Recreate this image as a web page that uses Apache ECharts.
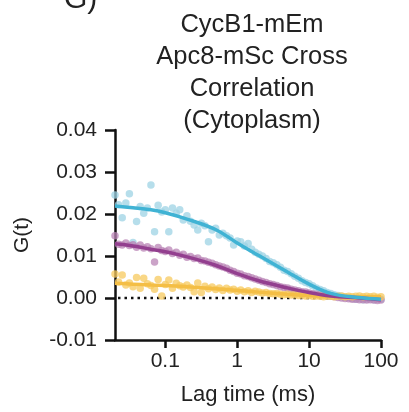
<!DOCTYPE html>
<html>
<head>
<meta charset="utf-8">
<script src="https://cdn.jsdelivr.net/npm/echarts@6/dist/echarts.min.js"></script>
<style>html,body{margin:0;padding:0;background:#fff}#c{width:409px;height:412px}</style>
</head>
<body>
<div id="c"></div>
<script>
// Lag times (ms)
var lagTimes = [0.020,0.0224,0.0252,0.0283,0.0317,0.0356,0.0399,0.0448,0.0502,0.0564,
0.0632,0.0710,0.0796,0.0893,0.1002,0.112,0.126,0.142,0.159,0.178,
0.200,0.224,0.252,0.283,0.317,0.356,0.399,0.448,0.502,0.564,
0.632,0.710,0.796,0.893,1.00,1.12,1.26,1.42,1.59,1.78,
2.00,2.24,2.52,2.83,3.17,3.56,3.99,4.48,5.02,5.64,
6.32,7.10,7.96,8.93,10.0,11.2,12.6,14.2,15.9,17.8,
20.0,22.4,25.2,28.3,31.7,35.6,39.9,44.8,50.2,56.4,
63.2,71.0,79.6,89.3,100];

var cyanPoints = [0.0245,0.0222,0.0191,0.0226,0.0248,0.0132,0.0182,0.0218,0.0202,0.0214,
0.0269,0.0158,0.0221,0.0205,0.0210,0.0158,0.0214,0.0202,0.0210,0.0186,
0.0196,0.0183,0.0174,0.0162,0.0178,0.0172,0.0134,0.0162,0.0166,0.0150,
0.0154,0.0148,0.0143,0.0126,0.0136,0.0134,0.0124,0.0130,0.0116,0.0109,
0.0104,0.0100,0.0094,0.0087,0.0084,0.0079,0.0073,0.0066,0.0063,0.0058,
0.0052,0.0047,0.0041,0.0037,0.0034,0.0029,0.0024,0.0020,0.0017,0.0013,
0.0011,0.0008,0.0006,0.0004,0.0002,0.0001,-0.0001,-0.0003,-0.0002,-0.0004,
-0.0003,-0.0002,-0.0004,-0.0003,-0.0003];

var purplePoints = [0.0148,0.0128,0.0126,0.0131,0.0125,0.0127,0.0121,0.0126,0.0119,0.0122,
0.0117,0.0086,0.0120,0.0113,0.0111,0.0114,0.0106,0.0109,0.0102,0.0104,
0.0097,0.0099,0.0094,0.0095,0.0089,0.0088,0.0085,0.0083,0.0079,0.0076,
0.0074,0.0071,0.0066,0.0063,0.0059,0.0057,0.0053,0.0051,0.0048,0.0045,
0.0042,0.0039,0.0037,0.0034,0.0032,0.0030,0.0027,0.0025,0.0024,0.0021,
0.0019,0.0017,0.0015,0.0014,0.0012,0.0010,0.0009,0.0007,0.0006,0.0005,
0.0004,0.0003,0.0001,0.0000,-0.0001,-0.0002,-0.0003,-0.0003,-0.0004,-0.0004,
-0.0005,-0.0004,-0.0005,-0.0006,-0.0005];

var yellowPoints = [0.0057,0.0038,0.0055,0.0031,0.0036,0.0027,0.0049,0.0023,0.0047,0.0034,
0.0030,0.0021,0.0044,0.0005,0.0032,0.0043,0.0023,0.0035,0.0029,0.0026,
0.0031,0.0025,0.0015,0.0036,0.0013,0.0028,0.0022,0.0026,0.0020,0.0024,
0.0018,0.0023,0.0019,0.0021,0.0016,0.0019,0.0015,0.0017,0.0013,0.0016,
0.0014,0.0012,0.0013,0.0011,0.0010,0.0011,0.0009,0.0008,0.0009,0.0007,
0.0008,0.0006,0.0007,0.0005,0.0006,0.0004,0.0005,0.0004,0.0003,0.0005,
0.0004,0.0003,0.0004,0.0005,0.0003,0.0004,0.0003,0.0004,0.0005,0.0003,
0.0004,0.0003,0.0004,0.0002,0.0003];

// Fit curves
var fitTimes = [0.02,0.0356,0.0632,0.1,0.2,0.5,1,2,5,10,20,50,100];
var cyanFit   = [0.0219,0.0215,0.0210,0.0203,0.0188,0.0163,0.0131,0.0101,0.0062,0.0033,0.0011,0.0001,-0.0003];
var purpleFit = [0.0129,0.0124,0.0116,0.0110,0.0098,0.0078,0.0058,0.0041,0.0024,0.0013,0.0005,0.0000,-0.0004];
var yellowFit = [0.0035,0.0033,0.0031,0.0030,0.0027,0.0022,0.0018,0.0014,0.0009,0.0006,0.0004,0.0003,0.0003];

var xTicks = [0.1, 1, 10, 100];

function pairs(xs, ys){ return xs.map(function(x,i){ return [x, ys[i]]; }); }

var FONT = 'Liberation Sans, Arial, Helvetica, sans-serif';
var chart = echarts.init(document.getElementById('c'), null, {renderer:'canvas'});

function scatter(name, ys, color){
  return {name:name, type:'scatter', data:pairs(lagTimes, ys), symbolSize:7.5,
    itemStyle:{color:color, opacity:0.75}, z:2, silent:true};
}
function fit(name, ys, color){
  return {name:name, type:'line', data:pairs(fitTimes, ys), smooth:0.4, showSymbol:false,
    lineStyle:{color:color, width:3.5}, z:4, silent:true};
}

chart.setOption({
  animation:false,
  title:{
    text:'CycB1-mEm\nApc8-mSc Cross\nCorrelation\n(Cytoplasm)',
    left:247, top:4, textAlign:'center',
    textStyle:{fontFamily:FONT, fontSize:25.5, fontWeight:'normal', lineHeight:32, color:'#222'}
  },
  graphic:[{type:'text', left:64, top:-15, style:{text:'G)', fontFamily:FONT, fontSize:30, fill:'#222'}}],
  grid:{left:115, right:28, top:130, bottom:72},
  xAxis:{
    type:'log', logBase:10, min:0.02, max:100,
    name:'Lag time (ms)', nameLocation:'middle', nameGap:44,
    nameTextStyle:{fontFamily:FONT, fontSize:22, color:'#222'},
    axisLine:{onZero:false, lineStyle:{color:'#111', width:2.5}},
    axisTick:{show:true, length:8, inside:false, lineStyle:{color:'#111', width:2.5}, customValues:xTicks},
    axisLabel:{fontFamily:FONT, fontSize:21, color:'#222', margin:11, customValues:xTicks,
      formatter:function(v){ return String(v); }},
    splitLine:{show:false}, minorTick:{show:false}
  },
  yAxis:{
    type:'value', min:-0.01, max:0.04, interval:0.01,
    name:'G(t)', nameLocation:'middle', nameGap:82, nameRotate:90,
    nameTextStyle:{fontFamily:FONT, fontSize:21, color:'#222'},
    axisLine:{show:true, lineStyle:{color:'#111', width:2.5}},
    axisTick:{show:true, length:10, lineStyle:{color:'#111', width:2.5}},
    axisLabel:{fontFamily:FONT, fontSize:21, color:'#222', margin:18,
      formatter:function(v){ return v.toFixed(2); }},
    splitLine:{show:false}
  },
  series:[
    {name:'zero', type:'line', data:[[0.022,0],[100,0]], showSymbol:false, silent:true, z:1,
      lineStyle:{color:'#111', width:2.5, type:[2.5,4]}},
    scatter('Cyan data', cyanPoints, '#9ed3e4'),
    scatter('Purple data', purplePoints, '#b984b5'),
    scatter('Yellow data', yellowPoints, '#f7c95e'),
    fit('Yellow fit', yellowFit, '#f4be45'),
    fit('Purple fit', purpleFit, '#933f8f'),
    fit('Cyan fit', cyanFit, '#40b3d4')
  ]
});
</script>
</body>
</html>
